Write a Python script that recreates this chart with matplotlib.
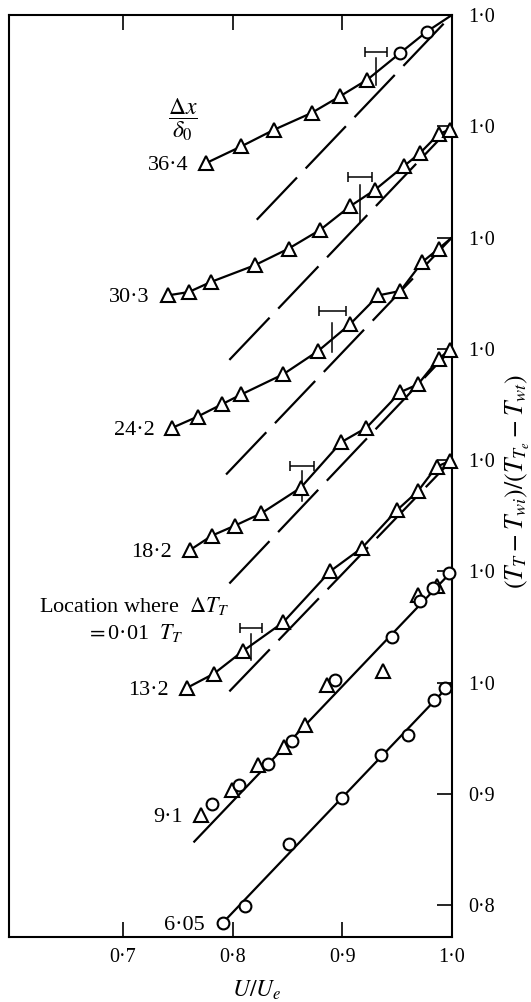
import matplotlib.pyplot as plt

plt.rcParams['font.family'] = ['Liberation Serif', 'DejaVu Serif']
plt.rcParams['mathtext.fontset'] = 'stix'
plt.rcParams['lines.scale_dashes'] = False

# station labels (dx/delta0); each profile is lifted by 0.1 on the right-hand scale
stations = ['6·05', '9·1', '13·2', '18·2', '24·2', '30·3', '36·4']
shifts = [0.0, 0.1, 0.2, 0.3, 0.4, 0.5, 0.6]

# U/Ue and (TT - Twi)/(TTe - Twt) at each station
u_605 = [0.791, 0.811, 0.851, 0.900, 0.935, 0.960, 0.984, 0.994]
t_605 = [0.784, 0.799, 0.855, 0.896, 0.935, 0.953, 0.984, 0.995]

u_91_tri = [0.771, 0.799, 0.823, 0.847, 0.866, 0.886, 0.937, 0.969, 0.986]
t_91_tri = [0.781, 0.803, 0.826, 0.842, 0.862, 0.898, 0.910, 0.979, 0.987]
u_91_circ = [0.781, 0.806, 0.832, 0.854, 0.893, 0.945, 0.971, 0.983, 0.997]
t_91_circ = [0.791, 0.808, 0.827, 0.847, 0.902, 0.941, 0.973, 0.985, 0.998]

u_132 = [0.758, 0.783, 0.809, 0.846, 0.889, 0.918, 0.950, 0.969, 0.986, 0.998]
t_132 = [0.795, 0.808, 0.828, 0.854, 0.900, 0.921, 0.955, 0.972, 0.994, 0.999]

u_182 = [0.761, 0.781, 0.802, 0.826, 0.862, 0.899, 0.922, 0.953, 0.969, 0.988, 0.998]
t_182 = [0.819, 0.832, 0.841, 0.852, 0.875, 0.916, 0.929, 0.961, 0.968, 0.991, 0.999]

u_242 = [0.745, 0.768, 0.790, 0.808, 0.846, 0.878, 0.907, 0.933, 0.953, 0.973, 0.988]
t_242 = [0.829, 0.839, 0.850, 0.859, 0.877, 0.898, 0.922, 0.948, 0.952, 0.978, 0.990]

u_303 = [0.741, 0.760, 0.780, 0.820, 0.851, 0.880, 0.907, 0.930, 0.956, 0.971, 0.988, 0.998]
t_303 = [0.848, 0.851, 0.860, 0.875, 0.890, 0.907, 0.928, 0.943, 0.964, 0.976, 0.993, 0.997]

u_364_tri = [0.776, 0.808, 0.838, 0.872, 0.898, 0.923]
t_364_tri = [0.867, 0.882, 0.897, 0.912, 0.927, 0.942]
u_364_circ = [0.953, 0.977]
t_364_circ = [0.966, 0.985]

# straight reference line of each station: lower end, running up to (1, 1)
ref_u0 = [0.791, 0.765, 0.797, 0.797, 0.794, 0.797, 0.822]
ref_t0 = [0.784, 0.757, 0.792, 0.789, 0.787, 0.790, 0.816]
ref_dashed = [False, False, True, True, True, True, True]

# location where dTT = 0.01 TT (stations 13.2 to 36.4)
loc_station = ['13·2', '18·2', '24·2', '30·3', '36·4']
loc_u = [0.817, 0.863, 0.891, 0.916, 0.931]
loc_du = [0.010, 0.011, 0.012, 0.011, 0.010]
loc_bar = [0.849, 0.895, 0.934, 0.954, 0.967]
loc_lo = [0.820, 0.863, 0.897, 0.914, 0.937]
loc_hi = [0.844, 0.890, 0.923, 0.947, 0.961]

runs = {
    '6·05': [(u_605, t_605, 'o')],
    '9·1': [(u_91_tri, t_91_tri, '^'), (u_91_circ, t_91_circ, 'o')],
    '13·2': [(u_132, t_132, '^')],
    '18·2': [(u_182, t_182, '^')],
    '24·2': [(u_242, t_242, '^')],
    '30·3': [(u_303, t_303, '^')],
    '36·4': [(u_364_tri, t_364_tri, '^'), (u_364_circ, t_364_circ, 'o')],
}
joined = ['13·2', '18·2', '24·2', '30·3', '36·4']

fig = plt.figure(figsize=(5.31, 10.02), dpi=100)
ax = fig.add_axes([0.017, 0.0646, 0.834, 0.9204])

for i, name in enumerate(stations):
    off = shifts[i]
    # reference line
    ls = dict(dashes=(42, 9)) if ref_dashed[i] else dict(linestyle='-')
    ax.plot([ref_u0[i], 1.0], [ref_t0[i] + off, 1.0 + off], color='black',
            lw=1.6, zorder=2, **ls)

    # measured profile joined point to point
    if name in joined:
        uu, tt = [], []
        for u, t, m in runs[name]:
            uu += u
            tt += t
        uu.append(1.0)
        tt.append(1.0)
        ax.plot(uu, [v + off for v in tt], color='black', lw=1.6, zorder=2)

    for u, t, m in runs[name]:
        ms = 10.5 if m == '^' else 8.5
        ax.plot(u, [v + off for v in t], linestyle='none', marker=m, ms=ms,
                mfc='white', mec='black', mew=1.5, zorder=3, clip_on=False)

    # station label to the left of the first point
    first = min((u[0], t[0]) for u, t, m in runs[name])
    ax.annotate(name, xy=(first[0], first[1] + off), xytext=(-13, 0),
                textcoords='offset points', ha='right', va='center_baseline',
                fontsize=16)

# dTT = 0.01 TT markers: bar shows the spread, tick the position
for j, name in enumerate(loc_station):
    off = shifts[stations.index(name)]
    ax.errorbar(loc_u[j], loc_bar[j] + off, xerr=loc_du[j], fmt='none',
                ecolor='black', elinewidth=1.1, capsize=3.5, capthick=1.1, zorder=2)
    ax.plot([loc_u[j], loc_u[j]], [loc_lo[j] + off, loc_hi[j] + off],
            color='black', lw=1.1, zorder=2)

ax.text(0.7543, 1.506, r'$\dfrac{\Delta x}{\delta_0}$', fontsize=17,
        ha='center', va='center')
ax.text(0.7105, 1.057, 'Location where  $\\Delta T_T$\n$=$0·01  $T_T$',
        fontsize=16, ha='center', va='center', linespacing=1.3)

ax.set_xlim(0.596, 1.0)
ax.set_ylim(0.771, 1.6)

ax.set_xticks([0.7, 0.8, 0.9, 1.0])
ax.set_xticklabels(['0·7', '0·8', '0·9', '1·0'])
ax.yaxis.tick_right()
ax.set_yticks([0.8, 0.9, 1.0, 1.1, 1.2, 1.3, 1.4, 1.5, 1.6])
ax.set_yticklabels(['0·8', '0·9'] + ['1·0'] * 7)
ax.tick_params(axis='x', direction='in', length=11, width=1.2, top=True,
               labelsize=14.5, pad=8)
ax.tick_params(axis='y', direction='in', length=11, width=1.2, left=False,
               right=True, labelsize=14.5, pad=12)
for sp in ax.spines.values():
    sp.set_linewidth(1.5)

fig.text(257 / 531, 1 - 990 / 1002, r'$U/U_e$', fontsize=17, ha='center', va='center')
fig.text(518 / 531, 1 - 481 / 1002, r'$(T_T-T_{wi})/(T_{T_e}-T_{wt})$', fontsize=18.5,
         rotation=90, ha='center', va='center')

fig.savefig('out.png', dpi=100)
